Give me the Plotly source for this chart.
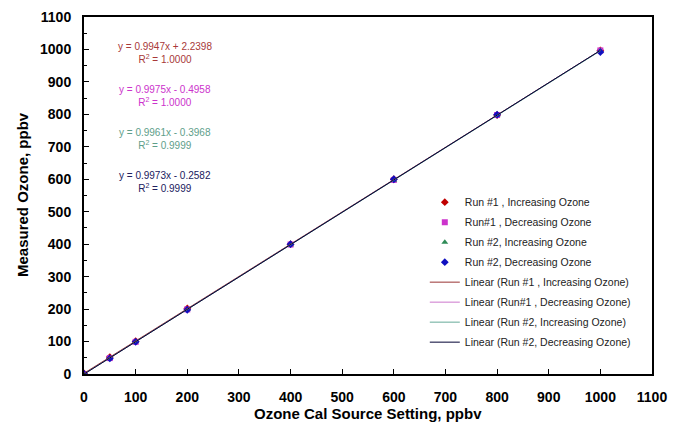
import plotly.graph_objects as go

# ---- data ----
setting = [0, 50, 100, 200, 400, 600, 800, 1000]
run1_inc = [2, 52, 101, 202, 400, 600, 798, 997]
run1_dec = [0, 49, 99, 199, 399, 598, 798, 997]
run2_inc = [0, 49, 99, 199, 398, 597, 797, 996]
run2_dec = [0, 48, 99, 198, 400, 600, 799, 992]

series_names = ["Run #1 , Increasing Ozone", "Run#1 , Decreasing Ozone",
                "Run #2, Increasing Ozone", "Run #2, Decreasing Ozone"]
slopes = [0.9947, 0.9975, 0.9961, 0.9973]
intercepts = [2.2398, -0.4958, -0.3968, -0.2582]
r2_values = ["1.0000", "1.0000", "0.9999", "0.9999"]
fit_range = [0, 1000]

x_ticks = list(range(0, 1101, 100))
y_ticks = list(range(0, 1101, 100))

# ---- styles ----
FONT = "Arial, Liberation Sans, sans-serif"
marker_colors = ["#C00000", "#CC33CC", "#2E8B57", "#1010C0"]
marker_symbols = ["diamond", "square", "triangle-up", "diamond"]
line_colors = ["#993333", "#CC77CC", "#66AA99", "#000033"]
eq_colors = ["#A83838", "#CC33CC", "#5E9E8A", "#202060"]

fig = go.Figure()
ys = [run1_inc, run1_dec, run2_inc, run2_dec]
for i in range(4):
    fig.add_trace(go.Scatter(
        x=setting, y=ys[i], mode="markers", name=series_names[i],
        legendgroup=f"m{i}",
        marker=dict(symbol=marker_symbols[i], color=marker_colors[i], size=6,
                    line=dict(width=0)),
    ))
for i in range(4):
    yy = [slopes[i] * xv + intercepts[i] for xv in fit_range]
    fig.add_trace(go.Scatter(
        x=fit_range, y=yy, mode="lines", name=f"Linear ({series_names[i]})",
        legendgroup=f"l{i}",
        line=dict(color=line_colors[i], width=1),
    ))

# equation annotations
eq_y = [990, 857, 724, 591]
for i in range(4):
    sign = "+" if intercepts[i] >= 0 else "-"
    fig.add_annotation(
        x=157, y=eq_y[i], xref="x", yref="y", showarrow=False,
        text=f"y = {slopes[i]:.4f}x {sign} {abs(intercepts[i]):.4f}<br>R<sup>2</sup> = {r2_values[i]}",
        font=dict(family=FONT, size=10, color=eq_colors[i]),
        align="center",
    )

axis_common = dict(
    range=[0, 1100], showgrid=False, zeroline=False, automargin=False,
    showline=True, linecolor="black", linewidth=2, mirror=True,
    ticks="inside", ticklen=5, tickcolor="black",
    tickfont=dict(family=FONT, size=14, color="black", weight="bold"),
)

fig.update_layout(
    width=676, height=427,
    margin=dict(l=84, r=24, t=17, b=53),
    paper_bgcolor="white", plot_bgcolor="white",
    xaxis=dict(**axis_common, tickvals=x_ticks, ticklabelstandoff=9),
    yaxis=dict(**axis_common, tickvals=y_ticks, ticklabelstandoff=8,
               minor=dict(ticks="inside", ticklen=3, tickcolor="black", dtick=50, tick0=0)),
    legend=dict(x=0.6, y=0.522, xanchor="left", yanchor="top",
                bgcolor="rgba(255,255,255,0)",
                font=dict(family=FONT, size=10.5, color="#222222"),
                tracegroupgap=1, itemwidth=30),
    showlegend=True,
)

fig.add_annotation(
    x=0.5, y=-39 / 357, xref="paper", yref="paper", showarrow=False,
    text="<b>Ozone Cal Source Setting, ppbv</b>",
    font=dict(family=FONT, size=15, color="black"), yanchor="middle",
)
fig.add_annotation(
    x=-62 / 568, y=(374 - 195) / 357, xref="paper", yref="paper", showarrow=False,
    text="<b>Measured Ozone, ppbv</b>", textangle=-90,
    font=dict(family=FONT, size=15, color="black"), xanchor="center", yanchor="middle",
)

fig.write_html("out.html", config={"displayModeBar": False},
               post_script="document.body.style.margin='0';")
